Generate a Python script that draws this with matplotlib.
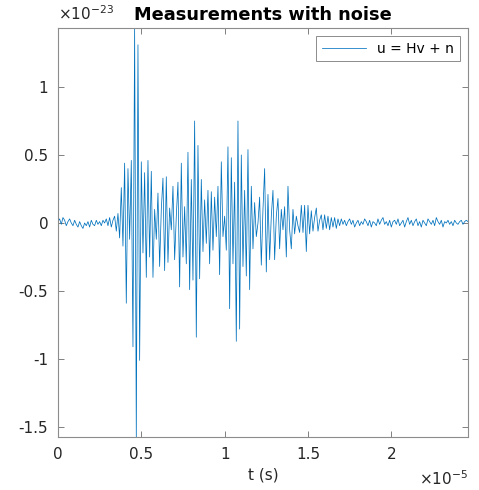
import matplotlib
matplotlib.use("Agg")
import matplotlib.pyplot as plt
import numpy as np
from matplotlib.ticker import FuncFormatter

plt.rcParams["font.family"] = ["DejaVu Sans"]
plt.rcParams["axes.unicode_minus"] = False

# sample spacing (s); values are in units of 1e-23
DT = 1e-7

pre_noise = [0.01, 0.03, -0.01, 0.04, 0.02, -0.02, 0.01, 0.03, 0.00, -0.02,
             0.02, -0.01, -0.03, 0.01, -0.02, -0.04, 0.00, -0.02, 0.01, -0.03,
             0.02, -0.01, -0.02, 0.02, -0.01, 0.01, -0.02, 0.02, 0.00, 0.03,
             -0.02, 0.04, -0.03, 0.02]

burst = [0.05, -0.06, 0.07, -0.11, 0.26, -0.17, 0.44, -0.59, 0.40, -0.12,
         0.46, -0.91, 1.434, -1.574, 1.31, -1.01,
         0.45, -0.22, 0.37, -0.40, 0.46, -0.25, 0.38, -0.40, 0.10, -0.12,
         0.22, -0.32, 0.10, 0.33, -0.35, 0.34, -0.29, 0.11, -0.05, 0.27,
         -0.27, 0.05, 0.30, -0.47, 0.44, -0.25, 0.12, -0.30, 0.52, -0.49,
         0.32, -0.42, 0.75, -0.84, 0.57, -0.41, 0.32, -0.21, 0.17, -0.15,
         0.24, -0.30, 0.23, -0.20, 0.19, -0.10, 0.27, -0.38, 0.45, -0.10,
         0.05, -0.20, 0.56, -0.63, 0.48, -0.30, 0.30, -0.87, 0.75, -0.78,
         0.50, -0.32, 0.24, -0.39, 0.54, -0.49, 0.27, -0.19, 0.15, -0.10,
         0.00, 0.19, -0.31, 0.10, 0.40, -0.36, 0.21, -0.27,
         0.05, 0.24, -0.27, 0.05, 0.18, -0.19, 0.10, -0.05, 0.12, -0.25,
         0.27, -0.05, -0.19, 0.10, -0.08, 0.05, -0.02, -0.07, 0.13, -0.07,
         0.13, -0.21, 0.13, -0.08, 0.09, -0.06, 0.04, 0.11, -0.06, 0.02,
         0.06, -0.05, 0.06, -0.04, 0.05, -0.05, 0.04, -0.03, 0.04, -0.04,
         0.03, -0.02, 0.03]

post_noise = [-0.01, 0.02, -0.02, 0.01, 0.03, -0.01, 0.02, -0.03, 0.00, 0.02,
              -0.02, 0.01, -0.01, 0.03, 0.01, -0.02, 0.02, -0.03, 0.01, 0.00,
              -0.02, 0.03, -0.01, 0.02, 0.04, -0.01, 0.01, -0.02, 0.02, -0.03,
              0.01, 0.02, -0.01, 0.03, -0.02, 0.00, 0.02, -0.03, 0.01, 0.04,
              -0.01, 0.02, -0.02, 0.01, 0.03, -0.02, 0.01, -0.03, 0.02, 0.00,
              -0.02, 0.03, 0.01, -0.01, 0.02, -0.02, 0.04, 0.01, -0.01, 0.02,
              -0.03, 0.01, 0.00, 0.02, -0.01, 0.01, -0.02, 0.02, 0.00, -0.01,
              0.01, 0.02, -0.01, 0.01, 0.02, 0.01]

x_ticks = [0, 0.5, 1, 1.5, 2]
y_ticks = [-1.5, -1, -0.5, 0, 0.5, 1]

u = np.array(pre_noise + burst + post_noise)
t = np.arange(len(u)) * DT * 1e5   # in units of 1e-5 s

fig = plt.figure(figsize=(4.79, 4.90), dpi=100)
ax = fig.add_axes([0.121, 0.108, 0.856, 0.835])

ax.plot(t, u, color="#0072BD", lw=0.55, label="u = Hv + n")
ax.set_xlim(t[0], t[-1])
ax.set_ylim(u.min(), u.max())

ax.set_xticks(x_ticks)
ax.set_yticks(y_ticks)
fmt = FuncFormatter(lambda v, _: f"{v:g}")
ax.xaxis.set_major_formatter(fmt)
ax.yaxis.set_major_formatter(fmt)
ax.tick_params(direction="in", length=4, width=0.7, colors="#808080",
               labelcolor="#262626", labelsize=11, top=True, right=True, pad=7)
for sp in ax.spines.values():
    sp.set_color("#8c8c8c")
    sp.set_linewidth(0.8)

ax.set_xlabel("t (s)", fontsize=11, color="#262626", labelpad=4)
ax.set_title("Measurements with noise", fontsize=12.8, fontweight="bold", pad=6)

ax.text(0.0, 1.012, r"$\times$10$^{-23}$", transform=ax.transAxes,
        ha="left", va="bottom", fontsize=11, color="#262626")
fig.text(0.977, 0.004, r"$\times$10$^{-5}$", ha="right", va="bottom",
         fontsize=11, color="#262626")

leg = ax.legend(loc="upper right", fontsize=10, fancybox=False,
                framealpha=1, edgecolor="#8c8c8c", handlelength=3.2,
                borderaxespad=0.6)
leg.get_frame().set_linewidth(0.7)

fig.savefig("out.png", dpi=100)
